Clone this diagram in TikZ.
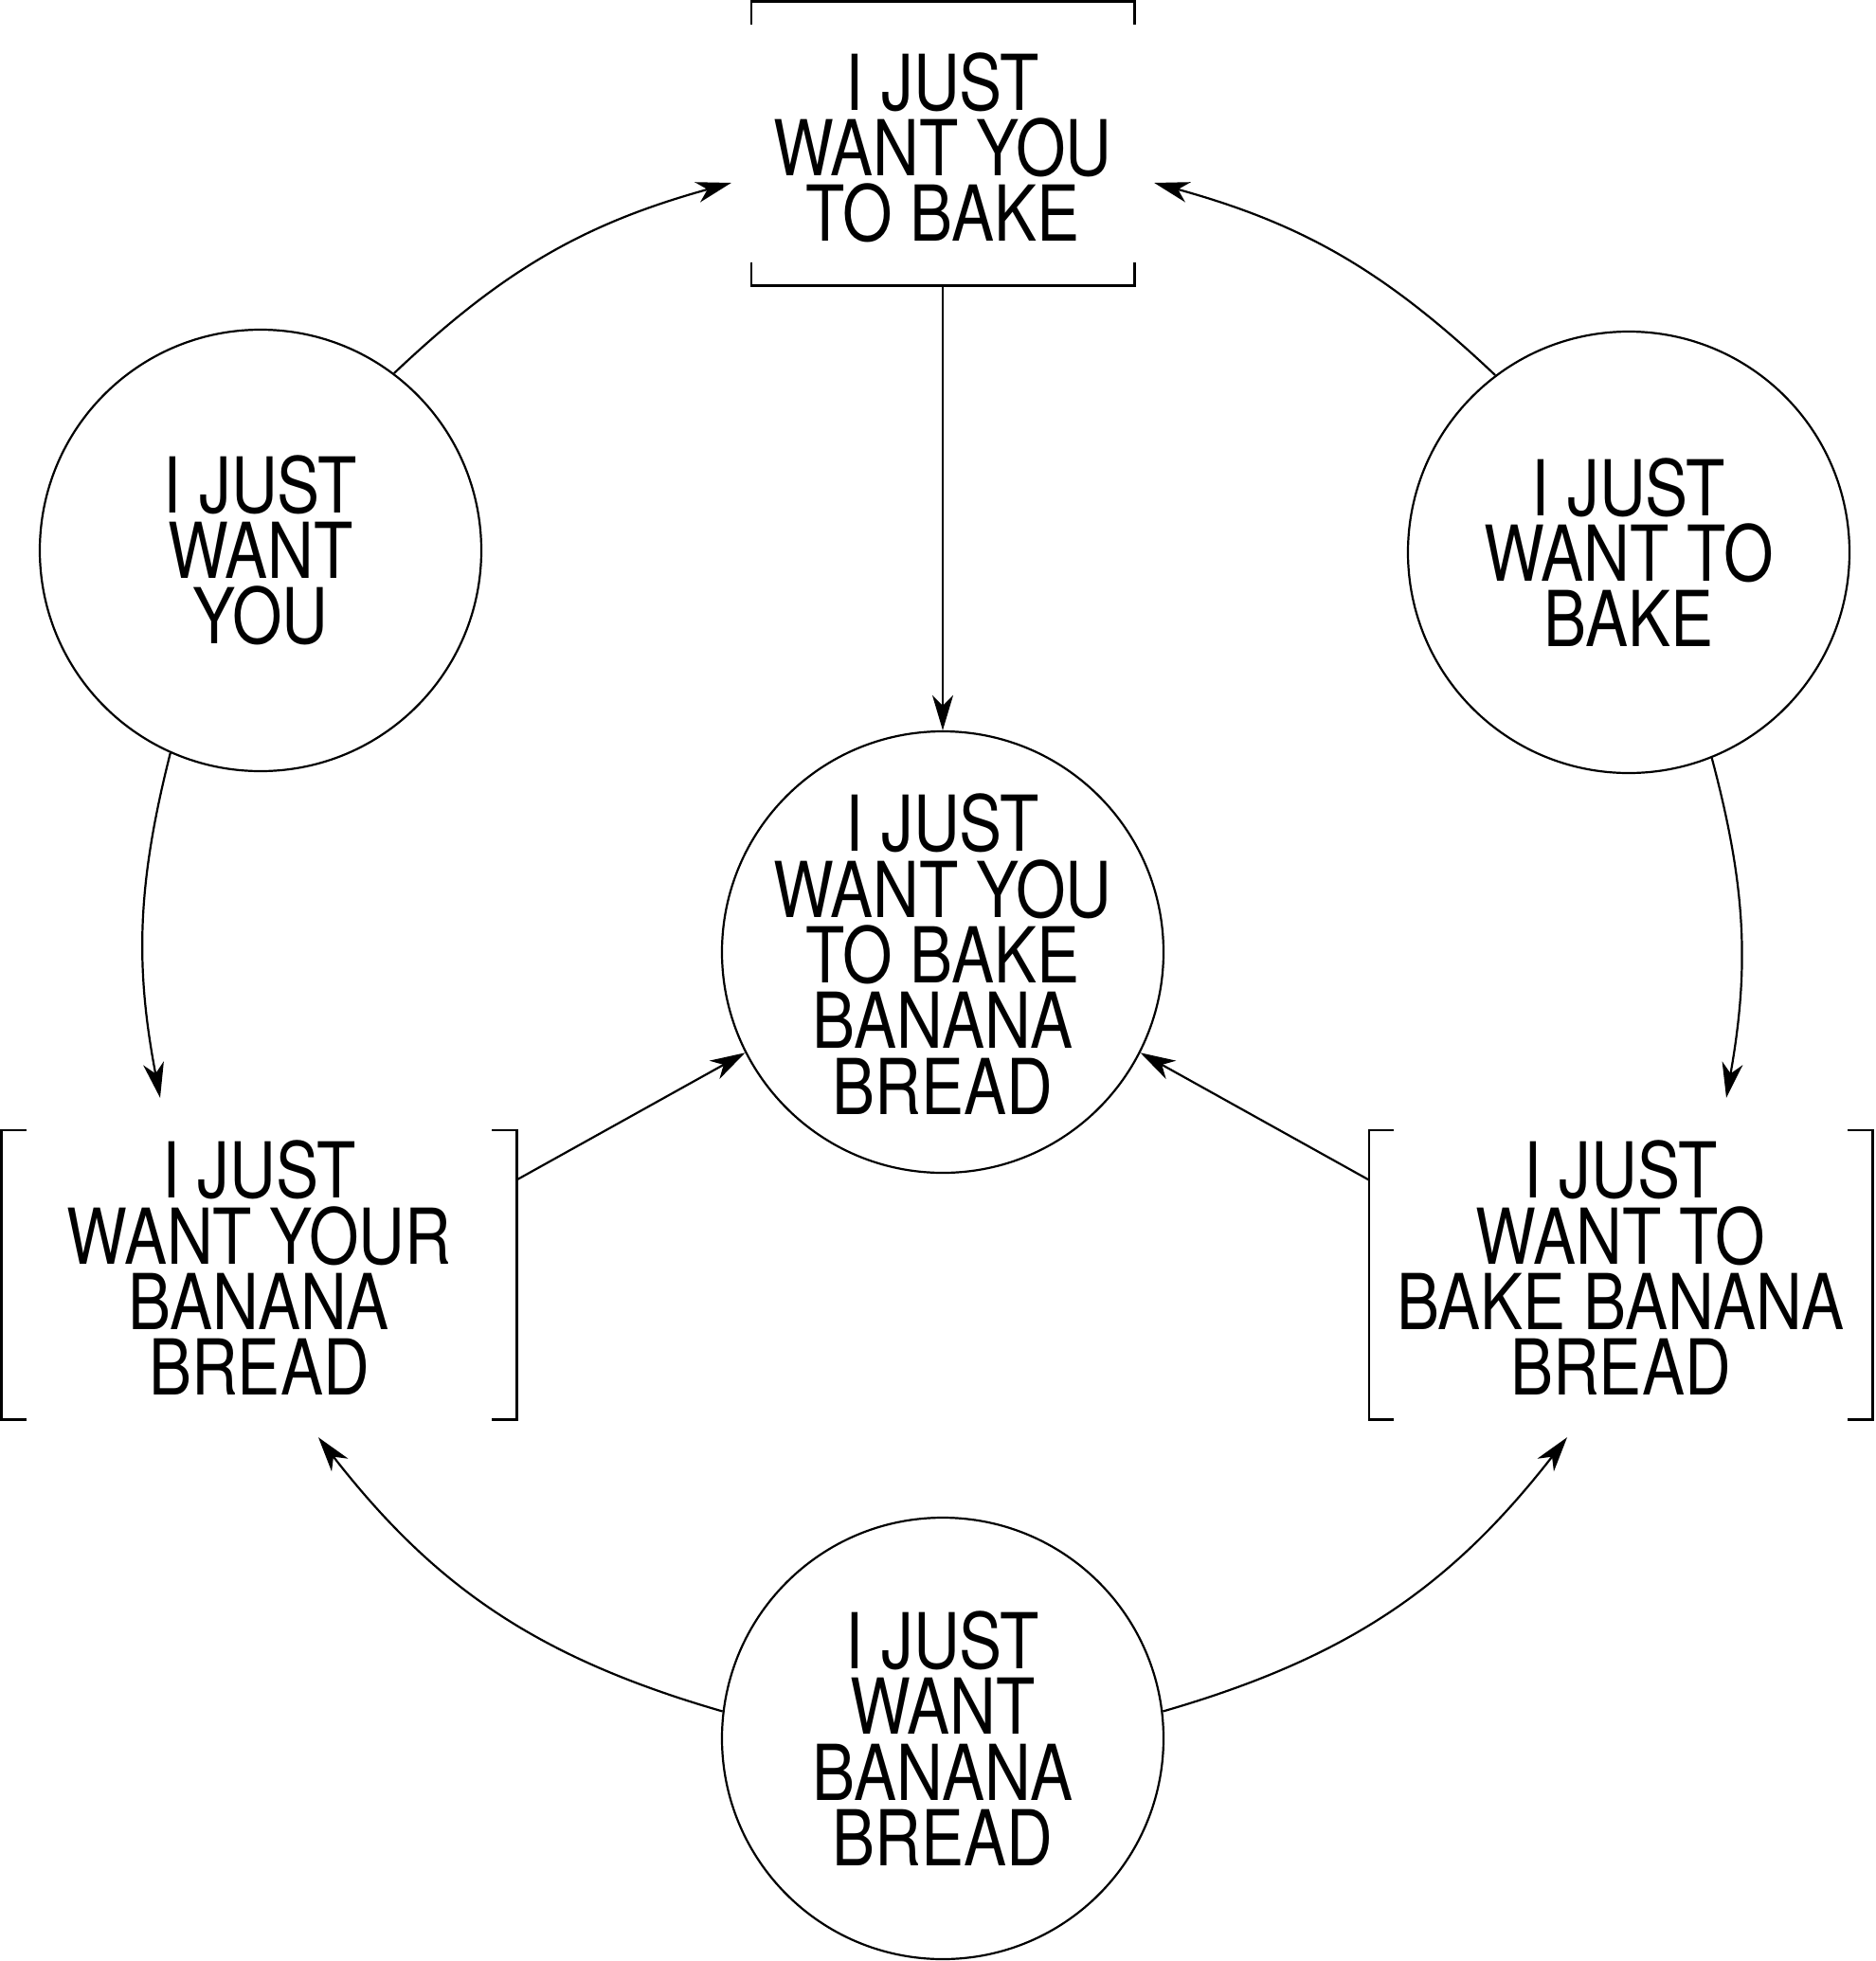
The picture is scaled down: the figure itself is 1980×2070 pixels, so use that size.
\documentclass[tikz,border=0pt]{standalone}
\usepackage{fontspec}
\setmainfont{TeX Gyre Heros}[FakeStretch=0.83]
\usetikzlibrary{arrows.meta}
\begin{document}
\begin{tikzpicture}[x=1pt,y=1pt,
  lbl/.style={font=\fontsize{81.4}{69.3}\selectfont, align=center, inner sep=0pt},
  circ/.style={lbl, circle, draw, line width=2.2pt, minimum size=466pt, inner sep=-40pt},
  brk/.style={lbl, rectangle},
  brkline/.style={line width=2.6pt},
  conn/.style={line width=2.2pt, -{Stealth[length=37pt,width=22pt,inset=11pt]}}]
\useasboundingbox (0,0) rectangle (1980,-2070);
% nodes
\node[brk, minimum width=404pt, minimum height=300pt, text height=208pt] (tb) at (995,-151.5) {I JUST\\WANT YOU\\TO BAKE};
\node[circ] (lc) at (275,-581) {I JUST\\WANT\\YOU};
\node[circ] (rc) at (1719,-583) {I JUST\\WANT TO\\BAKE};
\node[circ, text height=342pt] (cc) at (995,-1005) {I JUST\\WANT YOU\\TO BAKE\\BANANA\\BREAD};
\node[circ] (bc) at (995,-1835) {I JUST\\WANT\\BANANA\\BREAD};
\node[brk, minimum width=543pt, minimum height=305pt, text depth=14pt] (lb) at (273.5,-1345.5) {I JUST\\WANT YOUR\\BANANA\\BREAD};
\node[brk, minimum width=531pt, minimum height=305pt, text depth=14pt] (rb) at (1710.5,-1345.5) {I JUST\\WANT TO\\BAKE BANANA\\BREAD};
% brackets
\draw[brkline] ([yshift=-25]tb.north west) -- (tb.north west) -- (tb.north east) -- ([yshift=-25]tb.north east);
\draw[brkline] ([yshift=25]tb.south west) -- (tb.south west) -- (tb.south east) -- ([yshift=25]tb.south east);
\draw[brkline] ([xshift=26]lb.north west) -- (lb.north west) -- (lb.south west) -- ([xshift=26]lb.south west);
\draw[brkline] ([xshift=-26]lb.north east) -- (lb.north east) -- (lb.south east) -- ([xshift=-26]lb.south east);
\draw[brkline] ([xshift=26]rb.north west) -- (rb.north west) -- (rb.south west) -- ([xshift=26]rb.south west);
\draw[brkline] ([xshift=-26]rb.north east) -- (rb.north east) -- (rb.south east) -- ([xshift=-26]rb.south east);
% connectors
\draw[conn] (tb.south) -- (cc.north);
\draw[conn] (lc.53) to[bend left=14] ([shift={(-21,-41.5)}]tb.west);
\draw[conn] (rc.127) to[bend right=14] ([shift={(21,-41.5)}]tb.east);
\draw[conn] (lc.246) to[bend right=12.5] ([shift={(-104.5,34)}]lb.north);
\draw[conn] (rc.292) to[bend left=12.5] ([shift={(111.5,34)}]rb.north);
\draw[conn] ([yshift=100]lb.east) -- (cc.207);
\draw[conn] ([yshift=100]rb.west) -- (cc.333);
\draw[conn] (bc.173) to[bend left=18] ([shift={(62.5,-19)}]lb.south);
\draw[conn] (bc.7) to[bend right=18] ([shift={(-56.5,-19)}]rb.south);
\end{tikzpicture}
\end{document}
